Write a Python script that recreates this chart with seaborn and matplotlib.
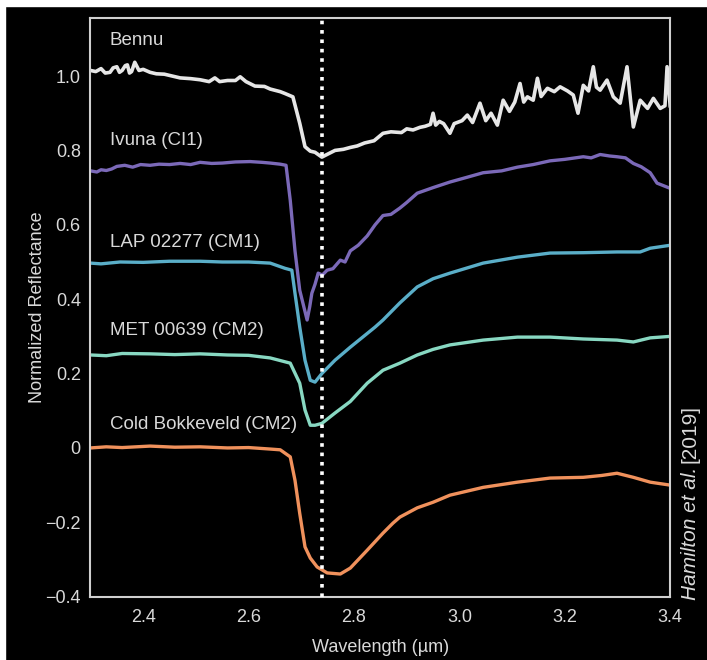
import numpy as np
import pandas as pd
import matplotlib
matplotlib.use("Agg")
import matplotlib.pyplot as plt
from matplotlib.patches import Rectangle
import seaborn as sns

# spectra (wavelength in um, normalized reflectance)
bennu_wl = [2.300, 2.310, 2.320, 2.328, 2.337, 2.343, 2.350, 2.355, 2.360, 2.366, 2.370,
            2.374, 2.378, 2.384, 2.392, 2.400, 2.413, 2.425, 2.440, 2.455,
            2.470, 2.490, 2.508, 2.525, 2.536, 2.545, 2.560, 2.575, 2.584, 2.595, 2.612, 2.630, 2.641,
            2.660, 2.669, 2.684, 2.697, 2.707, 2.717, 2.726, 2.739, 2.750, 2.764, 2.780, 2.793,
            2.806, 2.820, 2.838, 2.855, 2.870, 2.890, 2.900, 2.912, 2.925, 2.935, 2.945, 2.950,
            2.955, 2.962, 2.970, 2.982,
            2.990, 3.005, 3.015, 3.025, 3.039, 3.050, 3.060, 3.072, 3.083, 3.095, 3.105,
            3.115, 3.122, 3.129, 3.140, 3.148, 3.155, 3.167, 3.180, 3.191, 3.205, 3.216, 3.225,
            3.235, 3.245, 3.254, 3.260, 3.267, 3.280, 3.292, 3.305, 3.318, 3.330, 3.343,
            3.357, 3.368, 3.381, 3.390, 3.394, 3.400]
bennu_refl = [1.015, 1.012, 1.020, 1.008, 1.010, 1.022, 1.025, 1.010, 1.015, 1.028, 1.030,
              1.008, 1.012, 1.037, 1.015, 1.018, 1.010, 1.006, 1.005, 1.000,
              0.995, 0.993, 0.990, 0.985, 0.995, 0.985, 0.988, 0.988, 0.998, 0.985, 0.973, 0.972, 0.965,
              0.958, 0.953, 0.944, 0.873, 0.810, 0.798, 0.795, 0.782, 0.790, 0.800, 0.803, 0.808,
              0.812, 0.820, 0.826, 0.846, 0.850, 0.848, 0.858, 0.855, 0.862, 0.865, 0.870, 0.900,
              0.868, 0.878, 0.872, 0.846,
              0.872, 0.880, 0.895, 0.875, 0.927, 0.880, 0.900, 0.868, 0.935, 0.905, 0.930,
              0.980, 0.930, 0.944, 0.935, 0.994, 0.945, 0.967, 0.958, 0.971, 0.960, 0.949, 0.900,
              0.975, 0.960, 1.025, 0.970, 0.962, 0.989, 0.944, 0.927, 1.025, 0.863, 0.935,
              0.913, 0.940, 0.913, 0.920, 1.025, 0.917]

ivuna_wl = [2.300, 2.312, 2.320, 2.330, 2.340, 2.350, 2.365, 2.380, 2.395, 2.413, 2.430, 2.450,
            2.470, 2.490, 2.508, 2.530, 2.550, 2.575, 2.603, 2.625, 2.641,
            2.660, 2.671, 2.679, 2.688, 2.697, 2.711, 2.716, 2.720, 2.726, 2.732, 2.740, 2.749,
            2.760, 2.774, 2.783, 2.793, 2.808, 2.825,
            2.840, 2.855, 2.870, 2.887, 2.900, 2.920, 2.950, 2.982, 3.015, 3.045, 3.080, 3.110,
            3.140, 3.172, 3.200, 3.235, 3.250, 3.267, 3.285, 3.299,
            3.315, 3.330, 3.345, 3.362, 3.375, 3.400]
ivuna_refl = [0.745, 0.742, 0.748, 0.746, 0.750, 0.757, 0.760, 0.755, 0.762, 0.760, 0.763, 0.762,
              0.765, 0.762, 0.768, 0.765, 0.766, 0.769, 0.770, 0.768, 0.766,
              0.763, 0.760, 0.666, 0.530, 0.424, 0.344, 0.380, 0.416, 0.440, 0.470, 0.465, 0.478,
              0.482, 0.505, 0.500, 0.530, 0.545, 0.570,
              0.600, 0.625, 0.628, 0.645, 0.660, 0.685, 0.700, 0.715, 0.728, 0.740, 0.745, 0.755,
              0.762, 0.772, 0.776, 0.783, 0.780, 0.789, 0.785, 0.783,
              0.780, 0.765, 0.756, 0.740, 0.712, 0.698]

lap_wl = [2.300, 2.320, 2.356, 2.400, 2.450, 2.508, 2.550, 2.600, 2.641, 2.669, 2.682, 2.688,
          2.697, 2.707, 2.717, 2.726, 2.739, 2.764, 2.793, 2.840, 2.855, 2.887, 2.920, 2.950,
          2.982, 3.045, 3.110, 3.172, 3.235, 3.299, 3.343, 3.362, 3.400]
lap_refl = [0.497, 0.495, 0.500, 0.499, 0.502, 0.502, 0.500, 0.500, 0.497, 0.483, 0.478, 0.416,
            0.325, 0.236, 0.182, 0.177, 0.200, 0.236, 0.271, 0.325, 0.344, 0.390, 0.433, 0.455,
            0.470, 0.497, 0.513, 0.524, 0.525, 0.527, 0.527, 0.537, 0.545]

met_wl = [2.300, 2.330, 2.360, 2.413, 2.460, 2.508, 2.560, 2.600, 2.641, 2.679, 2.697,
          2.707, 2.717, 2.726, 2.739, 2.764, 2.793, 2.825, 2.855, 2.887, 2.920, 2.950,
          2.982, 3.045, 3.110, 3.172, 3.235, 3.299, 3.330, 3.362, 3.400]
met_refl = [0.250, 0.248, 0.254, 0.253, 0.251, 0.253, 0.250, 0.249, 0.242, 0.228, 0.174,
            0.102, 0.061, 0.061, 0.066, 0.094, 0.125, 0.174, 0.209, 0.228, 0.250, 0.265,
            0.277, 0.290, 0.298, 0.298, 0.293, 0.290, 0.285, 0.296, 0.300]

cold_wl = [2.300, 2.330, 2.360, 2.413, 2.460, 2.508, 2.560, 2.600, 2.641, 2.660, 2.679,
           2.688, 2.697, 2.707, 2.717, 2.730, 2.749, 2.774, 2.793, 2.825, 2.855, 2.874,
           2.887, 2.920, 2.950, 2.982, 3.045, 3.110, 3.172, 3.235, 3.270, 3.299, 3.330,
           3.362, 3.400]
cold_refl = [0.000, 0.003, 0.001, 0.005, 0.002, 0.003, 0.000, 0.001, -0.003, -0.005, -0.024,
             -0.087, -0.176, -0.266, -0.296, -0.320, -0.336, -0.339, -0.323, -0.275, -0.229, -0.202,
             -0.186, -0.161, -0.146, -0.127, -0.106, -0.092, -0.081, -0.079, -0.074, -0.068, -0.079,
             -0.092, -0.100]

names = ["Bennu", "Ivuna (CI1)", "LAP 02277 (CM1)", "MET 00639 (CM2)", "Cold Bokkeveld (CM2)"]
label_y = [1.096, 0.828, 0.553, 0.317, 0.062]
colors = ["#e6e6e6", "#7b69b8", "#5aaec8", "#88d8c2", "#f0915c"]
band_center = 2.74

series = [(bennu_wl, bennu_refl), (ivuna_wl, ivuna_refl), (lap_wl, lap_refl),
          (met_wl, met_refl), (cold_wl, cold_refl)]
df = pd.concat([pd.DataFrame({"wl": w, "refl": r, "sample": n})
                for (w, r), n in zip(series, names)], ignore_index=True)

sns.set_style("dark")
plt.rcParams["font.family"] = ["Liberation Sans Narrow", "Liberation Sans", "DejaVu Sans"]
fg = "#d9d9d9"

fig = plt.figure(figsize=(7.07, 6.60), dpi=100, facecolor="black")
# thin white strip along the top and left edges of the screenshot
fig.patches.append(Rectangle((0, 1 - 6 / 660), 1, 6 / 660, transform=fig.transFigure,
                             color="white", zorder=0))
fig.patches.append(Rectangle((0, 0), 5 / 707, 1, transform=fig.transFigure,
                             color="white", zorder=0))
ax = fig.add_axes([0.128, 0.0959, 0.820, 0.8768])
ax.set_facecolor("black")

sns.lineplot(data=df, x="wl", y="refl", hue="sample", hue_order=names, palette=colors,
             sort=False, estimator=None, linewidth=2.4, legend=False, ax=ax)
ax.lines[0].set_linewidth(2.6)

ax.axvline(band_center, color="white", lw=2.6, ls=(0, (1, 1.6)), zorder=5)

for n, yv in zip(names, label_y):
    ax.text(2.337, yv, n, color=fg, fontsize=13.5, va="center", ha="left")

ax.set_xlim(2.3, 3.4)
ax.set_ylim(-0.4, 1.156)
ax.set_xticks([2.4, 2.6, 2.8, 3.0, 3.2, 3.4])
ax.set_xticks(np.arange(2.3, 3.41, 0.1), minor=True)
ax.set_yticks([-0.4, -0.2, 0, 0.2, 0.4, 0.6, 0.8, 1.0])
ax.set_yticklabels(["\u22120.4", "\u22120.2", "0", "0.2", "0.4", "0.6", "0.8", "1.0"])
ax.set_yticks(np.arange(-0.4, 1.11, 0.1), minor=True)
ax.tick_params(which="both", direction="in", colors=fg, labelsize=13)
ax.tick_params(which="major", length=11, width=1.4)
ax.tick_params(axis="x", which="major", pad=9)
ax.tick_params(axis="y", which="major", pad=7)
ax.tick_params(which="minor", length=5.5, width=1.4)
ax.grid(False)
for s in ax.spines.values():
    s.set_color("#cfcfcf")
    s.set_linewidth(1.5)

ax.set_xlabel("Wavelength (\u00b5m)", color=fg, fontsize=13, labelpad=9)
ax.set_ylabel("Normalized Reflectance", color=fg, fontsize=13)
ax.yaxis.set_label_coords(-0.077, 0.5)

ham = fig.text(0.976, 1 - 600 / 660, "Hamilton et al.", rotation=90, style="italic",
               color=fg, fontsize=15, ha="center", va="bottom")
fig.canvas.draw()
bb = ham.get_window_extent().transformed(fig.transFigure.inverted())
fig.text(0.976, bb.y1 + 4 / 660, "[2019]", rotation=90, color=fg, fontsize=15,
         ha="center", va="bottom")

fig.savefig("out.png", dpi=100, facecolor=fig.get_facecolor())
